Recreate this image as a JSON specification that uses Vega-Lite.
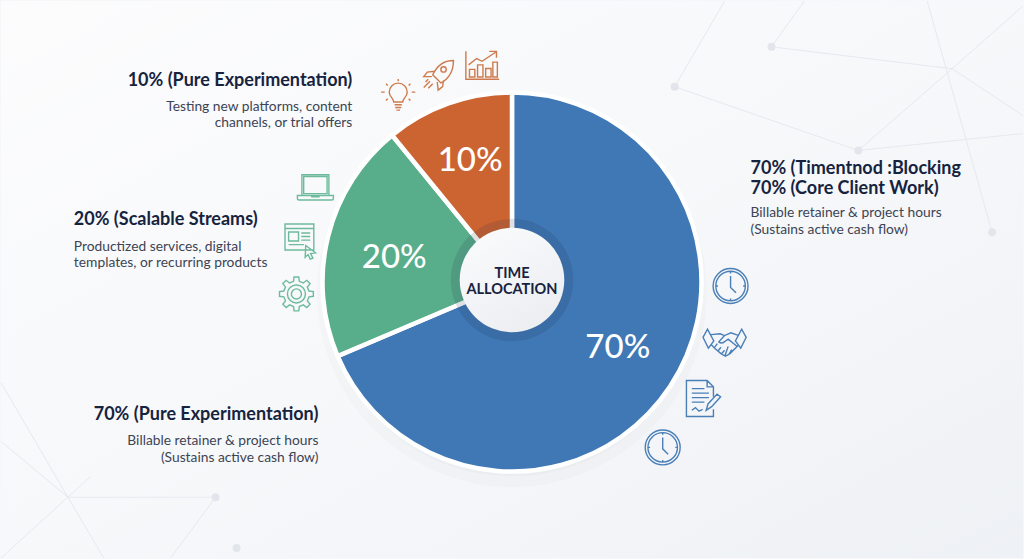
{
"$schema":"https://vega.github.io/schema/vega-lite/v6.json",
"width":1024,"height":559,"padding":0,
"autosize":{"type":"fit","contains":"padding"},
"background":"#f6f7fa",
"config":{"view":{"stroke":null},"axis":{"disable":true},"text":{"font":"Lato"}},
"datasets":{
"one":[{"k":1}],
"slices":[{"name":"Core Client Work","share":68.6,"rank":1},{"name":"Scalable Streams","share":20.5,"rank":2},{"name":"Pure Experimentation","share":10.9,"rank":3}],
"net":[
{"a":772,"b":46,"c":953,"d":68},{"a":772,"b":46,"c":805,"d":0},{"a":953,"b":68,"c":1024,"d":5},{"a":675,"b":86,"c":859,"d":150},{"a":675,"b":86,"c":725,"d":0},{"a":859,"b":150,"c":953,"d":68},{"a":928,"b":0,"c":993,"d":232},{"a":859,"b":150,"c":1024,"d":133},{"a":953,"b":68,"c":1024,"d":115},
{"a":0,"b":383,"c":67,"d":498},{"a":67,"b":498,"c":103,"d":559},{"a":0,"b":442,"c":67,"d":498},{"a":67,"b":498,"c":215,"d":498},{"a":215,"b":498,"c":170,"d":559},{"a":90,"b":477,"c":0,"d":559}],
"nodes":[{"a":772,"b":46},{"a":859,"b":150},{"a":993,"b":232},{"a":675,"b":86},{"a":215,"b":498},{"a":236,"b":549}],
"icons":[
{"icon":"bulb","a":398,"b":96},{"icon":"rocket","a":438,"b":75},{"icon":"chart","a":482,"b":65},
{"icon":"laptop","a":315,"b":187},{"icon":"window","a":299,"b":240},{"icon":"gear","a":296,"b":294},
{"icon":"clock","a":731,"b":286},{"icon":"hands","a":725,"b":343},{"icon":"doc","a":703,"b":399},{"icon":"clock","a":663,"b":448}],
"labels":[
{"t":"70%","a":618,"b":345},{"t":"20%","a":394,"b":255},{"t":"10%","a":470,"b":158}],
"center":[{"t":"TIME","a":512,"b":272},{"t":"ALLOCATION","a":512,"b":289}],
"headL":[{"t":"20% (Scalable Streams)","a":73,"b":218},{"t":"70% (Timentnod :Blocking","a":751,"b":167},{"t":"70% (Core Client Work)","a":751,"b":187}],
"headR":[{"t":"10% (Pure Experimentation)","a":352,"b":78},{"t":"70% (Pure Experimentation)","a":318,"b":413}],
"subL":[{"t":"Productized services, digital","a":73,"b":245},{"t":"templates, or recurring products","a":73,"b":261},{"t":"Billable retainer & project hours","a":751,"b":211},{"t":"(Sustains active cash flow)","a":751,"b":228}],
"subR":[{"t":"Testing new platforms, content","a":352,"b":105},{"t":"channels, or trial offers","a":352,"b":121},{"t":"Billable retainer & project hours","a":318,"b":440},{"t":"(Sustains active cash flow)","a":318,"b":457}]
},
"layer":[
{"data":{"name":"one"},"mark":{"type":"rect","color":{"gradient":"linear","x1":0,"y1":0,"x2":1,"y2":1,"stops":[{"offset":0,"color":"#fcfcfd"},{"offset":0.5,"color":"#f7f8fa"},{"offset":1,"color":"#eef1f5"}]}},
 "encoding":{"x":{"datum":0,"scale":{"domain":[0,1024],"nice":false,"zero":false}},"x2":{"datum":1024},"y":{"datum":0,"scale":{"domain":[0,559],"reverse":true,"nice":false,"zero":false}},"y2":{"datum":559}}},
{"data":{"name":"net"},"mark":{"type":"rule","color":"#e6e9ef","strokeWidth":1},
 "encoding":{"x":{"field":"a","type":"quantitative"},"y":{"field":"b","type":"quantitative"},"x2":{"field":"c"},"y2":{"field":"d"}}},
{"data":{"name":"nodes"},"mark":{"type":"point","filled":true,"color":"#e2e5eb","opacity":1,"size":64},
 "encoding":{"x":{"field":"a","type":"quantitative"},"y":{"field":"b","type":"quantitative"}}},
{"data":{"name":"one"},"mark":{"type":"point","filled":true,"color":"#1b2a4a","opacity":0.02,"size":152053},"encoding":{"x":{"datum":512},"y":{"datum":292}}},
{"data":{"name":"one"},"mark":{"type":"point","filled":true,"color":"#1b2a4a","opacity":0.025,"size":139000},"encoding":{"x":{"datum":512},"y":{"datum":290}}},
{"data":{"name":"one"},"mark":{"type":"point","filled":true,"color":"#1b2a4a","opacity":0.03,"size":130700},"encoding":{"x":{"datum":512},"y":{"datum":288}}},
{"data":{"name":"one"},"mark":{"type":"point","filled":true,"color":"#1b2a4a","opacity":0.04,"size":123150},"encoding":{"x":{"datum":512},"y":{"datum":286}}},
{"data":{"name":"one"},"mark":{"type":"point","filled":true,"color":"#ffffff","opacity":1,"size":115812},"encoding":{"x":{"datum":511.5},"y":{"datum":282}}},
{"data":{"name":"slices"},"mark":{"type":"arc","radius":189.5,"stroke":"#ffffff","strokeWidth":4.5,"yOffset":2.5},
 "encoding":{"theta":{"field":"share","type":"quantitative","scale":{"domain":[0,100]}},"order":{"field":"rank"},
 "color":{"field":"name","type":"nominal","legend":null,"sort":null,"scale":{"domain":["Core Client Work","Scalable Streams","Pure Experimentation"],"range":["#3f78b5","#58ad8a","#cc6431"]}}}},
{"data":{"name":"one"},"mark":{"type":"point","filled":true,"color":"#1b2a4a","opacity":0.14,"size":14957},"encoding":{"x":{"datum":512},"y":{"datum":280}}},
{"data":{"name":"one"},"mark":{"type":"point","filled":true,"opacity":1,"size":10936,"color":{"gradient":"linear","x1":0,"y1":0,"x2":0.6,"y2":1,"stops":[{"offset":0,"color":"#fbfcfd"},{"offset":1,"color":"#eceef2"}]}},"encoding":{"x":{"datum":512},"y":{"datum":280}}},
{"data":{"name":"icons"},"mark":{"type":"point","filled":false,"opacity":1,"strokeWidth":1.4,"size":1296},
 "encoding":{"x":{"field":"a","type":"quantitative"},"y":{"field":"b","type":"quantitative"},
 "stroke":{"field":"icon","type":"nominal","legend":null,"scale":{"domain":["bulb","rocket","chart","laptop","window","gear","clock","hands","doc"],"range":["#cf7a4c","#cf7a4c","#cf7a4c","#6dbb9c","#6dbb9c","#6dbb9c","#4a7fb8","#4a7fb8","#4a7fb8"]}},
 "shape":{"field":"icon","type":"nominal","legend":null,"scale":{"domain":["bulb","rocket","chart","laptop","window","gear","clock","hands","doc"],"range":[
 "M-.25,.3C-.25,.1 -.5,0 -.5,-.25A.5,.5 0 1 1 .5,-.25C.5,0 .25,.1 .25,.3Z M-.2,.45L.2,.45 M-.17,.6L.17,.6 M-.1,.75L.1,.75 M0,-.98L0,-.86 M-.68,-.72L-.58,-.62 M.68,-.72L.58,-.62 M-.95,-.25L-.75,-.25 M.95,-.25L.75,-.25 M-.68,.22L-.58,.12 M.68,.22L.58,.12",
 "M.85,-.85C.4,-.85 -.05,-.6 -.3,-.05L.15,.4C.7,.1 .85,-.4 .85,-.85Z M.15,-.35A.15,.15 0 1 1 .45,-.35A.15,.15 0 1 1 .15,-.35Z M-.2,-.25L-.6,-.2L-.8,.05L-.35,.05 M.3,.25L.25,.6L0,.8L-.05,.35 M-.45,.3L-.8,.65 M-.3,.45L-.55,.7 M-.55,.2L-.7,.35",
 "M-.9,-.8L-.9,.75L.95,.75 M-.7,.62V.2H-.4V.62Z M-.25,.62V-.05H.05V.62Z M.2,.62V.15H.5V.62Z M.6,.62V-.2H.85V.62Z M-.75,-.05L-.3,-.4L0,-.25L.75,-.75 M.4,-.8L.8,-.8L.8,-.45",
 "M-.75,-.7H.75V.45H-.75Z M-.65,-.6H.65V.35H-.65Z M-1,.45H1V.6Q1,.7 .9,.7H-.9Q-1,.7 -1,.6Z M-.2,.45V.53H.2V.45",
 "M-.8,-.9H.8V.55H-.8Z M-.8,-.65H.8 M-.6,-.45H-.05V.05H-.6Z M.1,-.4H.6 M.1,-.2H.6 M.1,0H.6 M-.6,.25H.25 M.35,.3L.9,.7L.62,.75L.75,1L.6,1.05L.48,.8L.32,.95Z",
 "M.70,-.16L.94,-.13L.94,.13L.70,.16L.608,.382L.757,.573L.573,.757L.382,.608L.16,.70L.13,.94L-.13,.94L-.16,.70L-.382,.608L-.573,.757L-.757,.573L-.608,.382L-.70,.16L-.94,.13L-.94,-.13L-.70,-.16L-.608,-.382L-.757,-.573L-.573,-.757L-.382,-.608L-.16,-.70L-.13,-.94L.13,-.94L.16,-.70L.382,-.608L.573,-.757L.757,-.573L.608,-.382Z M-.5,0A.5,.5 0 1 1 .5,0A.5,.5 0 1 1 -.5,0Z M-.28,0A.28,.28 0 1 1 .28,0A.28,.28 0 1 1 -.28,0Z",
 "M-.97,0A.97,.97 0 1 1 .97,0A.97,.97 0 1 1 -.97,0Z M-.82,0A.82,.82 0 1 1 .82,0A.82,.82 0 1 1 -.82,0Z M0,-.55L0,.08L.3,.38 M0,-.82V-.7 M0,.82V.7 M-.82,0H-.7 M.82,0H.7",
 "M-1.2,-.3L-.95,-.75L-.6,-.1L-.9,.3Z M1.2,-.3L.95,-.75L.6,-.1L.9,.3Z M-.75,-.45L-.25,-.5L0,-.4L.35,-.55L.8,-.4 M-.75,.1L-.55,.3L-.2,.6L.05,.75L.3,.6L.78,.12 M0,-.4L-.32,-.05Q-.15,.1 .05,-.1L.2,-.2L.72,.22 M-.4,.05L-.58,.28 M-.2,.25L-.38,.47 M0,.42L-.18,.62 M.2,.2L.02,.72 M.4,.38L.24,.65",
 "M.6,-.1V-.65L.25,-1H-.9V1H.6V.6 M.25,-1V-.65H.6 M-.6,-.55H.1 M-.6,-.3H.35 M-.6,-.05H.35 M-.6,.2H.1 M-.6,.65L-.4,.5L-.2,.7L0,.6 M.2,.65L.3,.3L.8,-.25L1,-.1L.5,.45Z"
 ]}}}},
{"data":{"name":"labels"},"mark":{"type":"text","fontSize":33,"fontWeight":500,"color":"#ffffff","align":"center","baseline":"middle","dy":3},
 "encoding":{"x":{"field":"a","type":"quantitative"},"y":{"field":"b","type":"quantitative"},"text":{"field":"t"}}},
{"data":{"name":"center"},"mark":{"type":"text","fontSize":14.5,"fontWeight":700,"color":"#18233f","align":"center","baseline":"middle","dy":1.5},
 "encoding":{"x":{"field":"a","type":"quantitative"},"y":{"field":"b","type":"quantitative"},"text":{"field":"t"}}},
{"data":{"name":"headL"},"mark":{"type":"text","fontSize":18,"fontWeight":700,"color":"#16233f","align":"left","baseline":"middle","dy":2},
 "encoding":{"x":{"field":"a","type":"quantitative"},"y":{"field":"b","type":"quantitative"},"text":{"field":"t"}}},
{"data":{"name":"headR"},"mark":{"type":"text","fontSize":18,"fontWeight":700,"color":"#16233f","align":"right","baseline":"middle","dy":2},
 "encoding":{"x":{"field":"a","type":"quantitative"},"y":{"field":"b","type":"quantitative"},"text":{"field":"t"}}},
{"data":{"name":"subL"},"mark":{"type":"text","fontSize":13.8,"color":"#3c4454","align":"left","baseline":"middle","dy":1.5},
 "encoding":{"x":{"field":"a","type":"quantitative"},"y":{"field":"b","type":"quantitative"},"text":{"field":"t"}}},
{"data":{"name":"subR"},"mark":{"type":"text","fontSize":13.8,"color":"#3c4454","align":"right","baseline":"middle","dy":1.5},
 "encoding":{"x":{"field":"a","type":"quantitative"},"y":{"field":"b","type":"quantitative"},"text":{"field":"t"}}}
]
}
